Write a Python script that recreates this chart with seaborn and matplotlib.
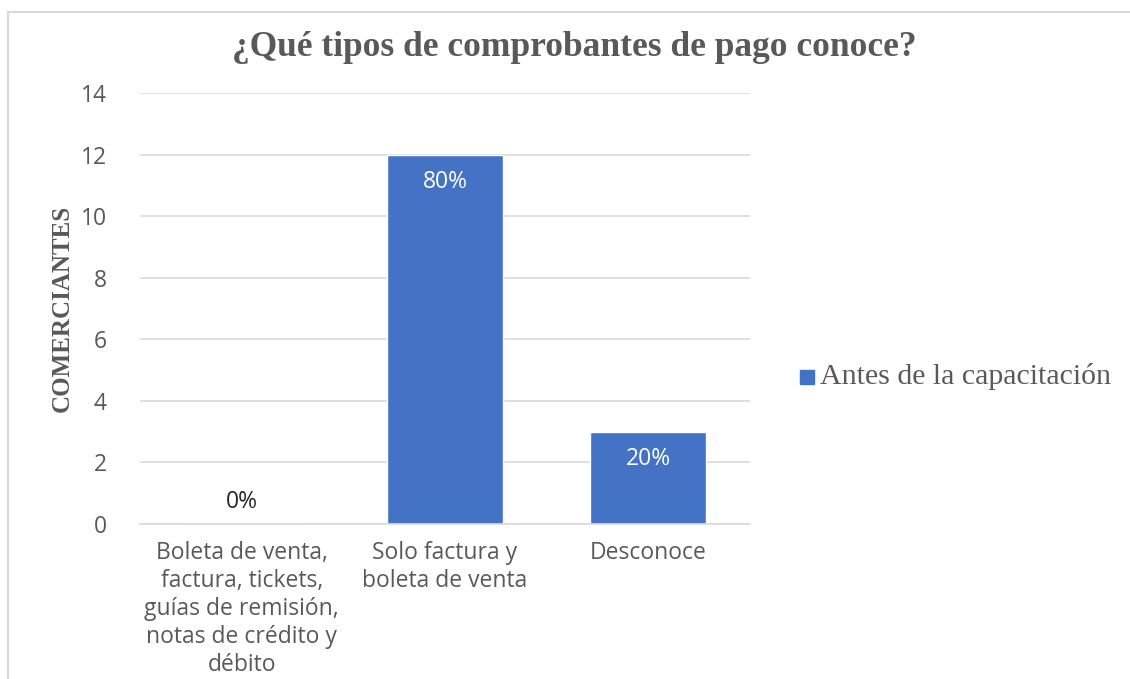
import matplotlib
matplotlib.use("Agg")
import matplotlib.pyplot as plt
import seaborn as sns
import pandas as pd
from matplotlib.patches import Rectangle

# data
categorias = [
    "Boleta de venta,\nfactura, tickets,\nguías de remisión,\nnotas de crédito y\ndébito",
    "Solo factura y\nboleta de venta",
    "Desconoce",
]
comerciantes = [0, 12, 3]
porcentajes = ["0%", "80%", "20%"]
serie = "Antes de la capacitación"

df = pd.DataFrame({"categoria": categorias, "valor": comerciantes, "serie": serie})

sns.set_theme(style="white")
gris = "#595959"
azul = "#4472C4"

fig = plt.figure(figsize=(11.3, 6.79), dpi=100)
ax = fig.add_axes([140 / 1130, 1 - 524 / 679, 610 / 1130, 431 / 679])

sns.barplot(data=df, x="categoria", y="valor", hue="serie", palette=[azul],
            width=0.57, ax=ax, legend=False, saturation=1)

ax.set_ylim(0, 14)
ax.set_yticks(range(0, 15, 2))
ax.grid(axis="y", color="#d9d9d9", linewidth=1.2)
ax.set_axisbelow(True)
for s in ["top", "right", "left"]:
    ax.spines[s].set_visible(False)
ax.spines["bottom"].set_color("#d9d9d9")
ax.spines["bottom"].set_linewidth(1.2)
ax.tick_params(axis="both", length=0, colors=gris, labelsize=16.5)
ax.tick_params(axis="x", pad=12)
ax.tick_params(axis="y", pad=24)
for lbl in ax.get_xticklabels() + ax.get_yticklabels():
    lbl.set_family("Open Sans")
for lbl in ax.get_xticklabels():
    lbl.set_linespacing(1.22)
ax.set_xlabel("")
ax.set_ylabel("COMERCIANTES", family="Liberation Serif", fontweight="bold",
              fontsize=18, color=gris)
ax.yaxis.set_label_coords(-66 / 610, 0.5)

# data labels
for i, (v, p) in enumerate(zip(comerciantes, porcentajes)):
    if v > 0:
        ax.text(i, v - 0.88, p, ha="center", va="center", color="white",
                fontsize=16.5, family="Open Sans")
    else:
        ax.text(i, v + 0.72, p, ha="center", va="center", color="#262626",
                fontsize=16.5, family="Open Sans")

fig.text(574 / 1130, 1 - 47 / 679, "¿Qué tipos de comprobantes de pago conoce?",
         ha="center", va="center", family="Liberation Serif", fontweight="bold",
         fontsize=25.5, color=gris)

# legend
fig.patches.append(Rectangle((800 / 1130, 1 - 384 / 679), 14 / 1130, 14 / 679,
                             transform=fig.transFigure, color=azul))
fig.text(820 / 1130, 1 - 377 / 679, serie, ha="left", va="center",
         family="Liberation Serif", fontsize=21.5, color=gris)

# chart border (top and left visible)
fig.patches.append(Rectangle((8 / 1130, -0.05), 1.2, 1 - 12 / 679 + 0.05,
                             transform=fig.transFigure, fill=False,
                             edgecolor="#d9d9d9", linewidth=1.5))

fig.savefig("out.png", dpi=100)
